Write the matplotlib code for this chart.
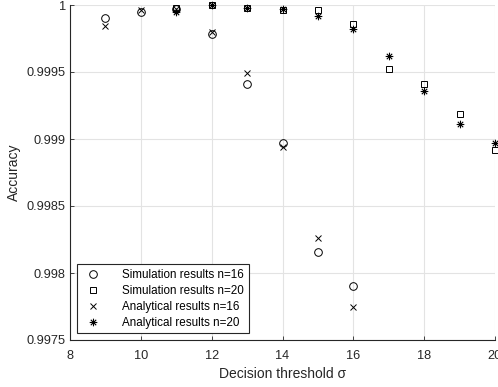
import matplotlib.pyplot as plt
from matplotlib.path import Path
from matplotlib.ticker import FixedLocator

plt.rcParams['font.family'] = ['Liberation Sans', 'DejaVu Sans']

# thresholds and accuracies
sigma_16 = [9, 10, 11, 12, 13, 14, 15, 16]
sim_16 = [0.99990, 0.99995, 0.99997, 0.99978, 0.99941, 0.99897, 0.99816, 0.99790]
ana_16 = [0.99984, 0.99996, 0.99997, 0.99980, 0.99949, 0.99894, 0.99826, 0.99775]

sigma_20 = [11, 12, 13, 14, 15, 16, 17, 18, 19, 20]
sim_20 = [0.99998, 1.00000, 0.99998, 0.99996, 0.99996, 0.99986, 0.99952, 0.99941, 0.99919, 0.99892]
ana_20 = [0.99995, 1.00000, 0.99998, 0.99997, 0.99992, 0.99982, 0.99962, 0.99936, 0.99911, 0.99897]

x_ticks = [8, 10, 12, 14, 16, 18, 20]
y_ticks = [0.9975, 0.998, 0.9985, 0.999, 0.9995, 1.0]
y_labels = ['0.9975', '0.998', '0.9985', '0.999', '0.9995', '1']

# line asterisk: a plus laid over a cross
d = 0.7071
asterisk = Path([(-1, 0), (1, 0), (0, -1), (0, 1),
                 (-d, -d), (d, d), (-d, d), (d, -d)],
                [Path.MOVETO, Path.LINETO] * 4)

fig = plt.figure(figsize=(4.98, 3.87), dpi=100)
ax = fig.add_axes([70 / 498, 47 / 387, 425 / 498, 335 / 387])

ms = 5.5
ax.plot(sigma_16, sim_16, 'o', mfc='none', mec='k', ms=ms, mew=0.7,
        label='Simulation results n=16', clip_on=False)
ax.plot(sigma_20, sim_20, 's', mfc='none', mec='k', ms=ms - 0.5, mew=0.7,
        label='Simulation results n=20', clip_on=False)
ax.plot(sigma_16, ana_16, 'x', color='k', ms=ms - 0.5, mew=0.7,
        label='Analytical results n=16', clip_on=False)
ax.plot(sigma_20, ana_20, marker=asterisk, ls='none', mfc='none', mec='k',
        ms=ms, mew=0.8, label='Analytical results n=20', clip_on=False)

ax.set_xlim(8, 20)
ax.set_ylim(0.9975, 1.0)
ax.xaxis.set_major_locator(FixedLocator(x_ticks))
ax.set_yticks(y_ticks)
ax.set_yticklabels(y_labels)

ax.grid(True, color='#e3e3e3', linewidth=0.8)
ax.set_axisbelow(True)
for side in ['top', 'right']:
    ax.spines[side].set_visible(False)
for side in ['left', 'bottom']:
    ax.spines[side].set_color('#262626')
    ax.spines[side].set_linewidth(0.8)
ax.tick_params(direction='in', length=3, width=0.6, colors='#262626',
               labelsize=9.2, pad=3)
ax.tick_params(axis='x', pad=7)

ax.set_xlabel('Decision threshold σ', fontsize=10, color='#262626', labelpad=4)
ax.set_ylabel('Accuracy', fontsize=10, color='#262626', labelpad=4)

leg = ax.legend(loc='lower left', bbox_to_anchor=(0.016, 0.02), fontsize=8.4,
                fancybox=False, framealpha=1, edgecolor='#262626',
                borderpad=0.4, handletextpad=1.5, labelspacing=0.33,
                handlelength=2.0, borderaxespad=0)
leg.get_frame().set_linewidth(0.8)

fig.savefig('out.png', dpi=100)
